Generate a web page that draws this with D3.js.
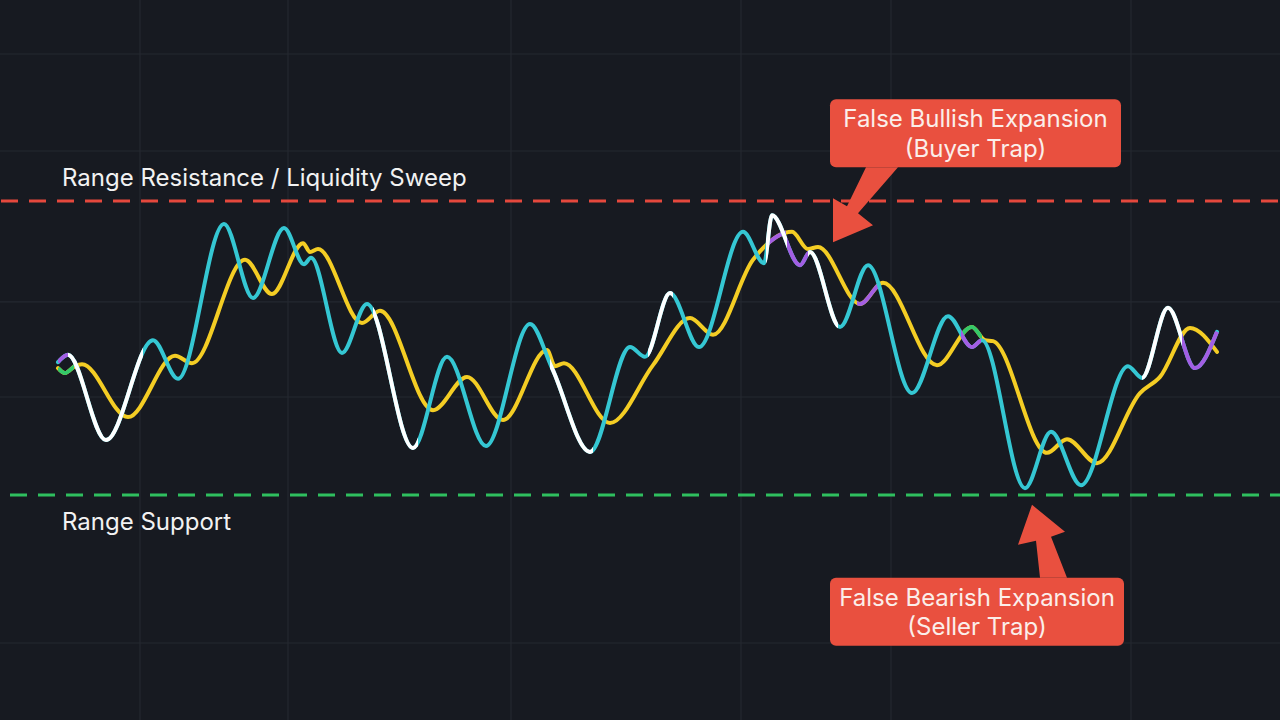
<!DOCTYPE html>
<html><head><meta charset="utf-8">
<script src="https://cdn.jsdelivr.net/npm/d3@7"></script>
<style>html,body{margin:0;padding:0;background:#171a21;overflow:hidden}</style>
</head><body><svg id="c" width="1280" height="720"></svg>
<script>
// ---- data (time step t, oscillator value v) ----
const fastT = [0,1.0,4.8,9.5,12.0,16.6,19.5,22.6,24.6,25.3,28.4,30.9,35.5,38.9,42.8,47.2,49.4,53.2,57.2,58.7,61.2,64.1,68.5,70.6,71.4,74.2,75.2,78.2,81.0,85.4,89.0,91.4,92.4,96.7,99.3,102.3,107.0,108.4,111.0,113.7,115.9];
const fastV = [47.1,48.6,31.2,51.6,43.7,75.3,60.2,74.5,67.1,68.4,49.0,59.0,29.6,48.2,30.0,54.9,45.9,28.8,50.2,48.2,61.2,50.2,73.7,67.3,77.1,66.9,69.6,54.3,66.9,40.8,56.5,50.2,51.6,21.4,32.9,22.0,46.3,43.9,58.2,45.9,53.3];
const slowT = [0,0.7,1.7,2.4,7.0,11.7,13.4,18.7,21.4,24.5,25.2,26.0,30.4,32.2,37.5,40.9,44.5,48.9,49.7,50.6,55.2,59.5,63.2,65.5,69.5,73.4,75.0,76.0,80.2,82.5,87.9,91.4,92.7,93.5,98.9,100.9,103.9,108.2,110.2,113.2,115.9];
const slowV = [45.9,44.9,46.3,46.7,35.9,48.4,46.9,68.0,61.0,71.4,69.6,70.2,55.1,57.6,37.3,44.1,35.3,49.6,46.3,46.9,34.7,46.5,56.1,52.7,68.0,73.7,70.2,70.6,59.0,63.3,46.5,54.3,51.6,51.4,28.6,31.4,26.5,40.8,44.1,54.1,49.2];
// colour segments [from t, to t, colour]
const fastSegFrom  = [0,   1.0,  31.5, 49.2, 59.0, 70.8, 72.9, 75.0, 90.3, 108.4, 112.4];
const fastSegTo    = [1.0, 8.5,  36.0, 53.5, 61.5, 72.9, 75.0, 78.0, 92.3, 112.4, 116.5];
const fastSegColor = ["purple","white","white","white","white","white","purple","white","purple","white","purple"];
const slowSegFrom  = [0,   70.8, 79.9, 90.3];
const slowSegTo    = [1.6, 72.8, 82.2, 92.4];
const slowSegColor = ["green","purple","purple","green"];
// levels
const resistance = 80, support = 20;
const gridT = [8.2, 23.0, 45.3, 68.3, 83.3, 107.3];
const gridV = [110, 90.2, 59.4, 40, -10.2];
const labels = ["Range Resistance / Liquidity Sweep", "Range Support"];
const notes = [
  {t: 77.5, v: 71.6, lines: ["False Bullish Expansion", "(Buyer Trap)"], dir: "down"},
  {t: 97.4, v: 18.0, lines: ["False Bearish Expansion", "(Seller Trap)"], dir: "up"}
];

const W = 1280, H = 720;
const palette = {cyan:"#35c7d3", yellow:"#f4cd24", white:"#ffffff", purple:"#a35ee3", green:"#34c96a",
  red:"#e5483d", greenDash:"#2fbf5f", grid:"#242830", box:"#e9503f", text:"#f2f2f2"};
const svg = d3.select("#c");
svg.append("rect").attr("width",W).attr("height",H).attr("fill","#171a21");

const x = d3.scaleLinear().domain([0,116]).range([58,1218]);
const y = d3.scaleLinear().domain([20,80]).range([495,201]);

// grid
svg.append("g").selectAll("line").data(gridT).join("line")
  .attr("x1",d=>x(d)).attr("x2",d=>x(d)).attr("y1",0).attr("y2",H)
  .attr("stroke",palette.grid).attr("stroke-width",1.2);
svg.append("g").selectAll("line").data(gridV).join("line")
  .attr("y1",d=>y(d)).attr("y2",d=>y(d)).attr("x1",0).attr("x2",W)
  .attr("stroke",palette.grid).attr("stroke-width",1.2);

// level lines
svg.append("line").attr("x1",0).attr("x2",W).attr("y1",y(resistance)).attr("y2",y(resistance))
  .attr("stroke",palette.red).attr("stroke-width",3).attr("stroke-dasharray","17 11").attr("stroke-dashoffset",-1);
svg.append("line").attr("x1",0).attr("x2",W).attr("y1",y(support)).attr("y2",y(support))
  .attr("stroke",palette.greenDash).attr("stroke-width",3).attr("stroke-dasharray","17 11").attr("stroke-dashoffset",-10);

svg.append("text").attr("x",62).attr("y",y(resistance)-15).text(labels[0])
  .attr("fill",palette.text).attr("font-family","Inter, 'Noto Sans', sans-serif").attr("font-size",24);
svg.append("text").attr("x",62).attr("y",y(support)+35).text(labels[1])
  .attr("fill",palette.text).attr("font-family","Inter, 'Noto Sans', sans-serif").attr("font-size",24);

// lines
const line = d3.line().x(d=>x(d[0])).y(d=>y(d[1])).curve(d3.curveMonotoneX);
const fastData = fastT.map((t,i)=>[t,fastV[i]]);
const slowData = slowT.map((t,i)=>[t,slowV[i]]);
const defs = svg.append("defs");
let clipId = 0;
function drawSeries(data, base, from, to, cols){
  const g = svg.append("g");
  const d = line(data);
  g.append("path").attr("d",d).attr("fill","none").attr("stroke",palette[base])
    .attr("stroke-width",4).attr("stroke-linecap","round").attr("stroke-linejoin","round");
  from.forEach((f,i)=>{
    const id = "clip"+(clipId++);
    defs.append("clipPath").attr("id",id).append("rect")
      .attr("x",x(f)).attr("width",x(to[i])-x(f)).attr("y",0).attr("height",H);
    g.append("path").attr("d",d).attr("fill","none").attr("stroke",palette[cols[i]])
      .attr("stroke-width",4).attr("stroke-linecap","butt").attr("stroke-linejoin","round")
      .attr("clip-path",`url(#${id})`);
  });
}
drawSeries(slowData,"yellow",slowSegFrom,slowSegTo,slowSegColor);
drawSeries(fastData,"cyan",fastSegFrom,fastSegTo,fastSegColor);

// annotations
notes.forEach(n=>{
  const tx = x(n.t), ty = y(n.v);
  const g = svg.append("g").attr("transform",`translate(${tx},${ty})`);
  let arrow, box;
  if(n.dir==="down"){
    arrow = [[33,-75],[65,-75],[25,-29],[40,-17],[0,0],[0,-44],[14,-36]];
    box = {x:-3,y:-143,w:291,h:68};
  } else {
    arrow = [[8,73],[35,73],[19,32],[33,27],[0,0],[-14,40],[4,36]];
    box = {x:-202,y:73,w:294,h:68};
  }
  g.append("polygon").attr("points",arrow.map(p=>p.join(",")).join(" ")).attr("fill",palette.box);
  g.append("rect").attr("x",box.x).attr("y",box.y).attr("width",box.w).attr("height",box.h)
    .attr("rx",6).attr("fill",palette.box);
  n.lines.forEach((s,i)=>{
    g.append("text").attr("x",box.x+box.w/2).attr("y",box.y+28+i*29.5).attr("text-anchor","middle")
      .attr("fill","#fbeeea").attr("font-family","Inter, 'Noto Sans', sans-serif").attr("font-size",24).text(s);
  });
});
</script></body></html>
